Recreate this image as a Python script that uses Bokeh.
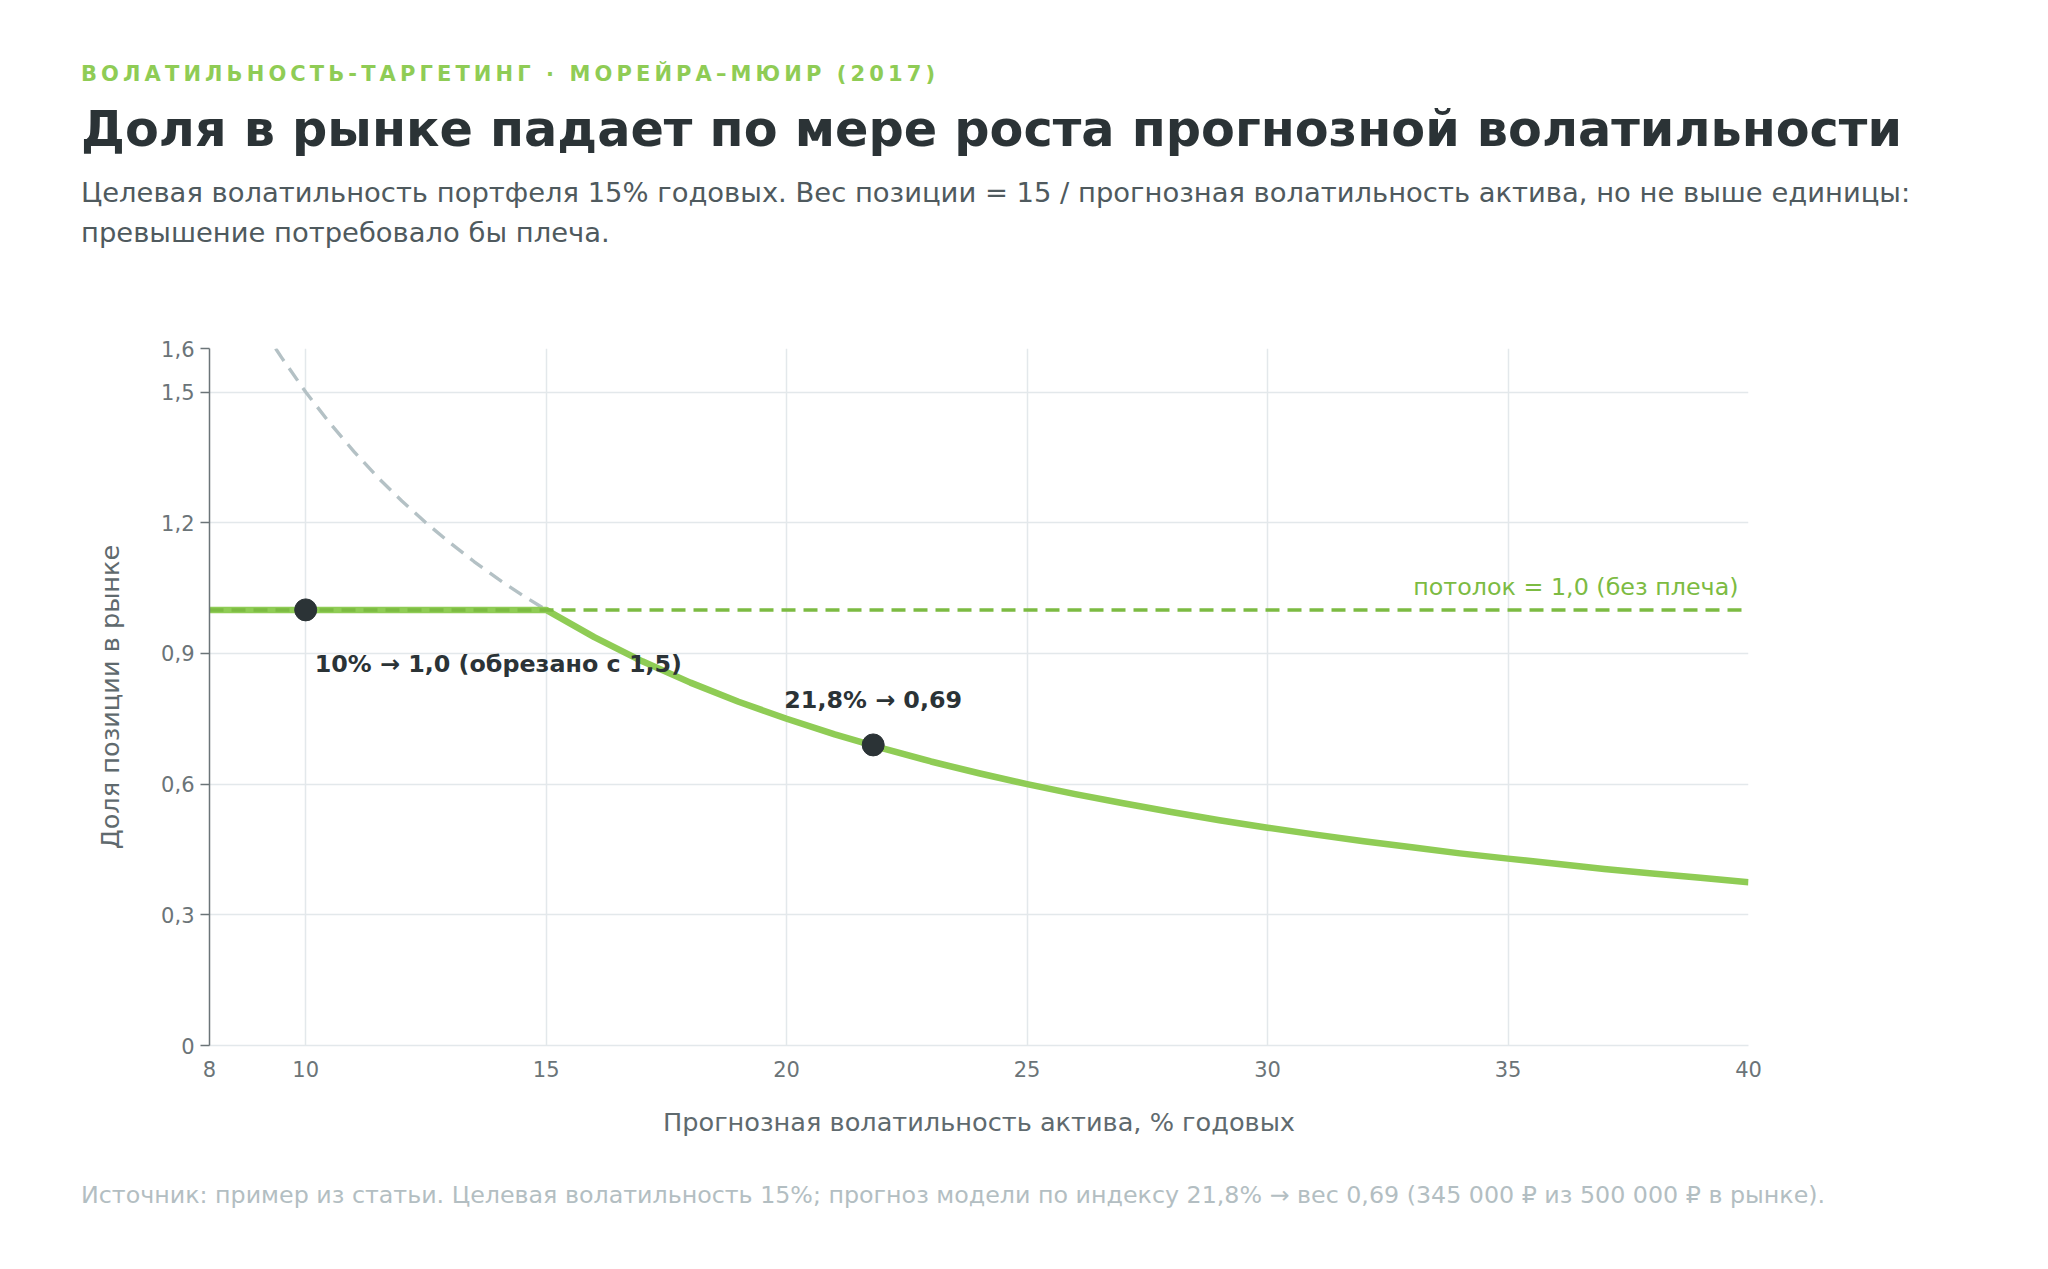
from bokeh.plotting import figure
from bokeh.models import Div, FixedTicker, CustomJSTickFormatter
from bokeh.layouts import column
from bokeh.core.properties import value
from bokeh.embed import file_html
from bokeh.resources import INLINE

FONT = "DejaVu Sans"

# ---- data ----
kicker = "ВОЛАТИЛЬНОСТЬ-ТАРГЕТИНГ · МОРЕЙРА–МЮИР (2017)"
title = "Доля в рынке падает по мере роста прогнозной волатильности"
subtitle_1 = "Целевая волатильность портфеля 15% годовых. Вес позиции = 15 / прогнозная волатильность актива, но не выше единицы:"
subtitle_2 = "превышение потребовало бы плеча."
footer = "Источник: пример из статьи. Целевая волатильность 15%; прогноз модели по индексу 21,8% → вес 0,69 (345 000 ₽ из 500 000 ₽ в рынке)."

x_ticks = [8, 10, 15, 20, 25, 30, 35, 40]
y_ticks = [0, 0.3, 0.6, 0.9, 1.2, 1.5, 1.6]

# capped weight (green curve)
w_vol = [8, 9, 10, 11, 12, 13, 14, 15, 16, 17, 18, 19, 20, 21, 22, 23, 24, 25,
         26, 27, 28, 29, 30, 31, 32, 33, 34, 35, 36, 37, 38, 39, 40]
w_val = [1.0, 1.0, 1.0, 1.0, 1.0, 1.0, 1.0, 1.0, 0.9375, 0.882, 0.833, 0.789, 0.75,
         0.714, 0.682, 0.652, 0.625, 0.6, 0.577, 0.556, 0.536, 0.517, 0.5, 0.484,
         0.469, 0.455, 0.441, 0.429, 0.417, 0.405, 0.395, 0.385, 0.375]

# uncapped weight (grey dashed)
u_vol = [9.375, 9.5, 10, 10.5, 11, 11.5, 12, 12.5, 13, 13.5, 14, 14.5, 15]
u_val = [1.6, 1.579, 1.5, 1.429, 1.364, 1.304, 1.25, 1.2, 1.154, 1.111, 1.071, 1.034, 1.0]

cap_vol = [8, 40]
cap_val = [1.0, 1.0]

pt_vol = [10, 21.8]
pt_val = [1.0, 0.69]

ceiling_label = "потолок = 1,0 (без плеча)"
pt_label_1 = "10% → 1,0 (обрезано с 1,5)"
pt_label_2 = "21,8% → 0,69"

GREEN = "#8fcc55"
GREEN_D = "#7cbb42"
DARK = "#2b3336"

W = 2032

header = Div(
    text=(
        f'<div style="font-family:\'{FONT}\';margin:0;padding:0 0 0 76px;">'
        f'<div style="padding-top:57px;font-size:21px;line-height:25px;font-weight:bold;'
        f'color:{GREEN};letter-spacing:4.1px;white-space:nowrap;">{kicker}</div>'
        f'<div style="margin-top:13px;font-size:49.3px;line-height:58px;font-weight:bold;'
        f'color:{DARK};white-space:nowrap;">{title}</div>'
        f'<div style="margin-top:15px;font-size:27.4px;line-height:39.5px;color:#4f5a5e;'
        f'white-space:nowrap;">{subtitle_1}<br>{subtitle_2}</div>'
        f'</div>'
    ),
    width=W, height=262,
)

p = figure(
    width=W, height=880,
    x_range=(8, 40), y_range=(0, 1.6),
    output_backend="svg", toolbar_location=None,
    min_border_left=209, min_border_right=284,
    min_border_top=76, min_border_bottom=107,
    background_fill_color="white", border_fill_color="white",
)
p.outline_line_color = None

p.xaxis.ticker = FixedTicker(ticks=x_ticks)
p.yaxis.ticker = FixedTicker(ticks=y_ticks)
p.yaxis.formatter = CustomJSTickFormatter(
    code="return tick === 0 ? '0' : tick.toFixed(1).replace('.', ',');")

p.xgrid.grid_line_color = "#e3e8eb"
p.ygrid.grid_line_color = "#e3e8eb"
p.xgrid.grid_line_width = 1.5
p.ygrid.grid_line_width = 1.5

for ax in (p.xaxis, p.yaxis):
    ax.major_label_text_font = FONT
    ax.major_label_text_font_size = "21px"
    ax.major_label_text_color = "#6b7478"
    ax.axis_label_text_font = FONT
    ax.axis_label_text_font_size = "25.6px"
    ax.axis_label_text_color = "#5f6a6e"
    ax.axis_label_text_font_style = "normal"
    ax.minor_tick_line_color = None

p.xaxis.axis_label = "Прогнозная волатильность актива, % годовых"
p.yaxis.axis_label = "Доля позиции в рынке"
p.xaxis.axis_line_color = "#e3e8eb"
p.xaxis.axis_line_width = 1.5
p.xaxis.major_tick_line_color = None
p.xaxis.major_label_standoff = 9
p.xaxis.axis_label_standoff = 27
p.yaxis.axis_line_color = "#6b7478"
p.yaxis.axis_line_width = 1.5
p.yaxis.major_tick_line_color = "#6b7478"
p.yaxis.major_tick_line_width = 1.5
p.yaxis.major_tick_out = 9
p.yaxis.major_tick_in = 0
p.yaxis.major_label_standoff = 6
p.yaxis.axis_label_standoff = 33

p.line(u_vol, u_val, line_color="#b4c1c5", line_width=3.4, line_dash="15 9")
p.line(w_vol, w_val, line_color=GREEN, line_width=6.5, line_join="round")
p.line(cap_vol, cap_val, line_color=GREEN_D, line_width=3.5, line_dash="14 8")
p.scatter(pt_vol, pt_val, size=22, fill_color=DARK, line_color=DARK)

p.text([40], [1.0], text=[ceiling_label], x_offset=-10, y_offset=-23,
       text_align="right", text_baseline="alphabetic",
       text_font=value(FONT), text_font_size="23.8px", text_color=GREEN_D)
p.text([pt_vol[0]], [pt_val[0]], text=[pt_label_1], x_offset=9, y_offset=54,
       text_align="left", text_baseline="alphabetic",
       text_font=value(FONT), text_font_size="23.8px", text_font_style="bold",
       text_color=DARK)
p.text([pt_vol[1]], [pt_val[1]], text=[pt_label_2], x_offset=0, y_offset=-45,
       text_align="center", text_baseline="alphabetic",
       text_font=value(FONT), text_font_size="23.8px", text_font_style="bold",
       text_color=DARK)

foot = Div(
    text=(
        f'<div style="font-family:\'{FONT}\';padding:24px 0 0 76px;font-size:23.75px;'
        f'line-height:28px;color:#b3bec2;white-space:nowrap;">{footer}</div>'
    ),
    width=W, height=100,
)

layout = column(header, p, foot, spacing=0)
open("out.html", "w").write(file_html(layout, INLINE))
